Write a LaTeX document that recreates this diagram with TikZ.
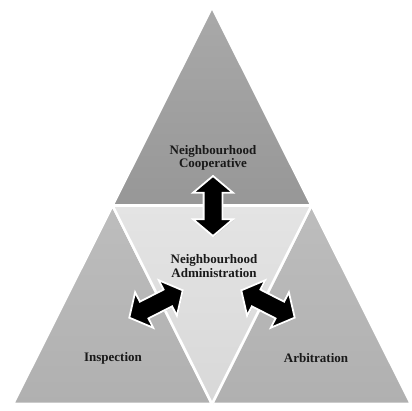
\documentclass[tikz,border=0pt]{standalone}
\usepackage{fontspec}
\setmainfont{Liberation Serif}
\definecolor{coopgraytop}{HTML}{A9A9A9}
\definecolor{coopgraybot}{HTML}{979797}
\definecolor{sidegraytop}{HTML}{BDBDBD}
\definecolor{sidegraybot}{HTML}{B0B0B0}
\definecolor{admingraytop}{HTML}{E4E4E4}
\definecolor{admingraybot}{HTML}{D8D8D8}
\usetikzlibrary{shapes.arrows, shadows, calc}

\begin{document}
\begin{tikzpicture}[x=1pt, y=-1pt,
	piece/.style={draw=white, line width=2.6pt, line join=miter,
		drop shadow={opacity=0.35, shadow xshift=0.8pt, shadow yshift=-0.8pt}},
	parttext/.style={font=\fontsize{13}{13.6}\selectfont\bfseries, align=center, text=black!90},
	fatarrow/.style={double arrow, sloped, fill=black, draw=white, line width=1.8pt,
		minimum height=60pt, minimum width=38pt, double arrow head extend=10.5pt, inner sep=8.5pt,
		double arrow tip angle=100,
		drop shadow={opacity=0.4, shadow xshift=0.8pt, shadow yshift=-0.8pt}}]
	\useasboundingbox[fill=white] (0,0) rectangle (412,411);
	\coordinate (apex) at (212,7);
	\coordinate (left) at (13,404);
	\coordinate (right) at (411,404);
	\coordinate (midL) at ($(apex)!0.5!(left)$);
	\coordinate (midR) at ($(apex)!0.5!(right)$);
	\coordinate (midB) at ($(left)!0.5!(right)$);
	\draw[piece, top color=sidegraytop, bottom color=sidegraybot] (midL) -- (midB) -- (left) -- cycle;
	\draw[piece, top color=sidegraytop, bottom color=sidegraybot] (midR) -- (right) -- (midB) -- cycle;
	\draw[piece, top color=admingraytop, bottom color=admingraybot] (midL) -- (midR) -- (midB) -- cycle;
	\draw[piece, top color=coopgraytop, bottom color=coopgraybot] (apex) -- (midR) -- (midL) -- cycle;
	\node[parttext] (coop) at (213,158) {Neighbourhood\\Cooperative};
	\node[parttext] (admin) at (214,266) {Neighbourhood\\Administration};
	\node[parttext] (insp) at (113,358) {Inspection};
	\node[parttext] (arb) at (316,358) {Arbitration};
	\coordinate (coopEnd) at (213,175);
	\coordinate (adminTop) at (213,237);
	\coordinate (inspEnd) at (128.4,318.1);
	\coordinate (adminLeft) at (183.6,289.9);
	\coordinate (adminRight) at (240.4,289.9);
	\coordinate (arbEnd) at (295.6,318.1);
	\path (coopEnd) -- node[fatarrow] (coopLink) {} (adminTop);
	\path (inspEnd) -- node[fatarrow] (inspLink) {} (adminLeft);
	\path (adminRight) -- node[fatarrow] (arbLink) {} (arbEnd);
\end{tikzpicture}
\end{document}
